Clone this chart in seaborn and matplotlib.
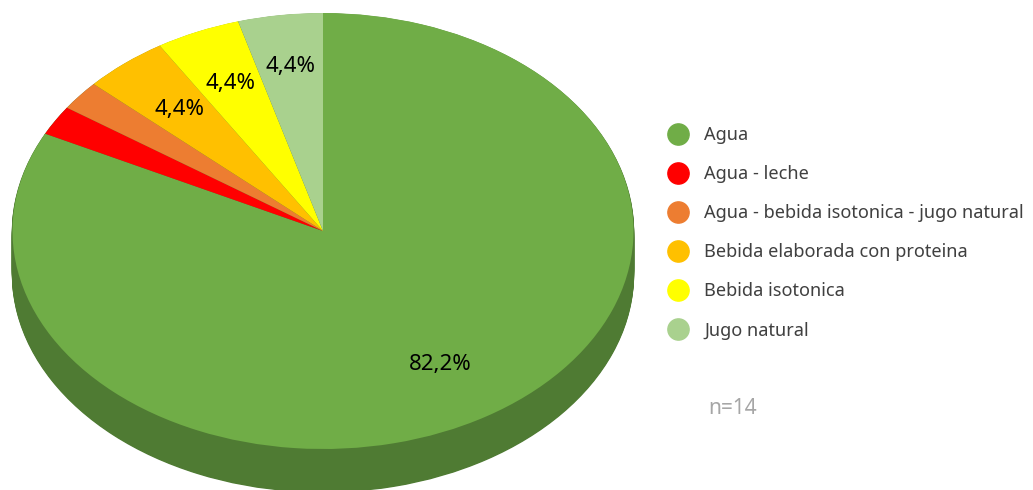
import math
import matplotlib
matplotlib.use("Agg")
import matplotlib.pyplot as plt
from matplotlib.lines import Line2D
import seaborn as sns

categories = ["Agua", "Agua - leche", "Agua - bebida isotonica - jugo natural",
              "Bebida elaborada con proteina", "Bebida isotonica", "Jugo natural"]
values = [82.2, 2.2, 2.2, 4.4, 4.4, 4.4]
show_label = [True, False, False, True, True, True]
colors = ["#70AD47", "#FF0000", "#ED7D31", "#FFC000", "#FFFF00", "#A9D18E"]
side_color = "#4F7B33"
note = "n=14"

sns.set_theme(style="white")
plt.rcParams["font.family"] = ["Noto Sans", "DejaVu Sans"]

W, H = 1033, 490
cx, cy, rx, ry, depth = 323, 231, 310.5, 218, 43
label_radius = [0.72, 0, 0, 0.725, 0.74, 0.76]
fig = plt.figure(figsize=(W / 100, H / 100), dpi=100)
ax = fig.add_axes([0, 0, 1, 1])

# side wall: stacked copies of the pie shifted downward
steps = 44
for i in range(steps, 0, -1):
    ax.pie(values, startangle=90, counterclock=False, colors=[side_color] * len(values),
           center=(0, -(depth / ry) * i / steps), radius=1, frame=False,
           wedgeprops={"edgecolor": side_color, "linewidth": 1})

wedges, _ = ax.pie(values, startangle=90, counterclock=False, colors=colors, radius=1, frame=False,
                   wedgeprops={"linewidth": 0})

ax.set_aspect("auto")
ax.set_xlim(-cx / rx, (W - cx) / rx)
ax.set_ylim((cy - H) / ry, cy / ry)
ax.axis("off")

total = sum(values)
acc = 0
for v, s, d in zip(values, show_label, label_radius):
    mid = math.radians(90 - (acc + v / 2) / total * 360)
    acc += v
    if s:
        ax.text(d * math.cos(mid), d * math.sin(mid), f"{v:.1f}%".replace(".", ","),
                ha="center", va="center", fontsize=16, color="black")

handles = [Line2D([], [], linestyle="none", marker="o", markersize=15.3, color=c) for c in colors]
ax.legend(handles, categories, loc="upper left", bbox_to_anchor=(660 / W, 1 - 126 / H),
          frameon=False, fontsize=13.1, labelcolor="#404040", labelspacing=1.16,
          handletextpad=0.44, borderpad=0, borderaxespad=0)

fig.text(708 / W, 1 - 408 / H, note, fontsize=15, color="#A6A6A6", va="center", ha="left")
fig.savefig("out.png", dpi=100)
